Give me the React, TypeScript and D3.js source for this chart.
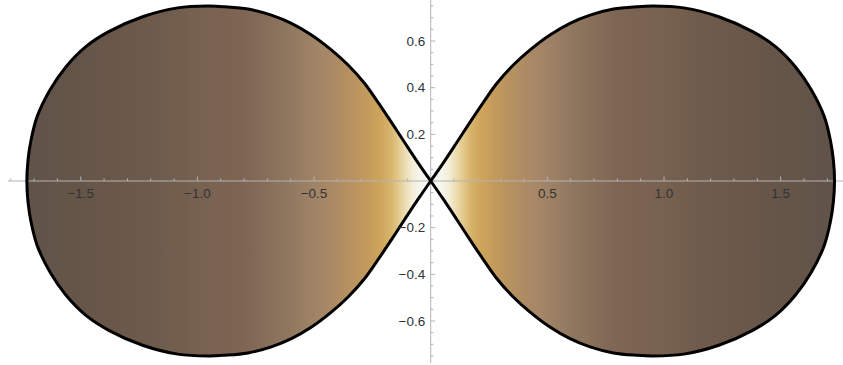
import * as d3 from 'd3'

// upper-right quarter of the figure-eight (the rest is mirrored)
const curveX = [0, 0.054, 0.111, 0.168, 0.225, 0.283, 0.354, 0.426, 0.511, 0.597, 0.683, 0.783, 0.883, 0.953, 1.085, 1.235, 1.38, 1.478, 1.563, 1.632, 1.687, 1.713, 1.726, 1.731]
const curveY = [0, 0.078, 0.164, 0.251, 0.336, 0.418, 0.497, 0.562, 0.626, 0.676, 0.711, 0.737, 0.747, 0.75, 0.742, 0.704, 0.64, 0.576, 0.49, 0.39, 0.276, 0.176, 0.09, 0]

const xTicks = [-1.5, -1.0, -0.5, 0.5, 1.0, 1.5]
const xTickLabels = ['−1.5', '−1.0', '−0.5', '0.5', '1.0', '1.5']
const yTicks = [-0.6, -0.4, -0.2, 0.2, 0.4, 0.6]
const yTickLabels = ['−0.6', '−0.4', '−0.2', '0.2', '0.4', '0.6']

// colour by |x| (coffee-like tones)
const shadeAt = [0, 0.05, 0.08, 0.11, 0.14, 0.17, 0.21, 0.26, 0.32, 0.4, 0.5, 0.62, 0.8, 1.0, 1.2, 1.5, 1.73]
const shadeColor = ['#f7fbf9', '#f6f6ec', '#f3ecd5', '#ecdcb0', '#e2c88a', '#d8b46c', '#d0a65c', '#c69c5c', '#ba945f', '#ae8b64', '#a08367', '#8e765e', '#7e6554', '#776150', '#6d5a4b', '#655548', '#61534a']

const W = 843
const H = 365
const FONT = '"Liberation Sans", Arial, sans-serif'

export default function App() {
  const x = d3.scaleLinear().domain([-1.8, 1.75]).range([430.7 - 1.8 * 233.3, 430.7 + 1.75 * 233.3])
  const y = d3.scaleLinear().domain([-0.75, 0.75]).range([181 + 0.75 * 233.3, 181 - 0.75 * 233.3])

  const quarter = curveX.map((v, i) => [v, curveY[i]])
  const lobe = quarter.concat(quarter.slice(0, -1).reverse().map(([a, b]) => [a, -b]))

  const line = d3.line<number[]>()
    .x(d => x(d[0]))
    .y(d => y(d[1]))
    .curve(d3.curveCatmullRom.alpha(0.5))

  const rightPath = line(lobe) + 'Z'
  const leftPath = line(lobe.map(([a, b]) => [-a, b])) + 'Z'

  const xMinor = d3.range(-18, 18).map(i => i / 10)
  const yMinor = d3.range(-15, 16).map(i => i / 20)
  const axisColor = '#b3b3b3'

  const stops = shadeAt.map((s, i) => (
    <stop key={i} offset={s / 1.73} stopColor={shadeColor[i]} />
  ))

  return (
    <svg width={W} height={H} style={{ position: 'absolute', left: 0, top: 0, background: '#fff' }}>
      <defs>
        <linearGradient id="gr" gradientUnits="userSpaceOnUse" x1={x(0)} x2={x(1.73)} y1={0} y2={0}>{stops}</linearGradient>
        <linearGradient id="gl" gradientUnits="userSpaceOnUse" x1={x(0)} x2={x(-1.73)} y1={0} y2={0}>{stops}</linearGradient>
      </defs>

      <path d={rightPath} fill="url(#gr)" />
      <path d={leftPath} fill="url(#gl)" />

      {/* axes */}
      <g stroke={axisColor} strokeWidth={1}>
        <line x1={8} x2={W} y1={y(0)} y2={y(0)} />
        <line x1={x(0)} x2={x(0)} y1={0} y2={363} />
        {xMinor.map(t => (
          <line key={'xm' + t} x1={x(t)} x2={x(t)} y1={y(0)} y2={y(0) - (Math.abs(t * 2 - Math.round(t * 2)) < 1e-6 ? 4.5 : 2.7)} />
        ))}
        {yMinor.map(t => (
          <line key={'ym' + t} x1={x(0)} x2={x(0) + (Math.abs(t * 5 - Math.round(t * 5)) < 1e-6 ? 4.5 : 2.7)} y1={y(t)} y2={y(t)} />
        ))}
      </g>

      <path d={rightPath} fill="none" stroke="#000" strokeWidth={3} strokeLinejoin="round" />
      <path d={leftPath} fill="none" stroke="#000" strokeWidth={3} strokeLinejoin="round" />

      <g fontFamily={FONT} fontSize={13.5} fill="#333">
        {xTicks.map((t, i) => (
          <text key={'xl' + t} x={x(t)} y={y(0) + 17} textAnchor="middle">{xTickLabels[i]}</text>
        ))}
        {yTicks.map((t, i) => (
          <text key={'yl' + t} x={x(0) - 5.5} y={y(t) + 4.8} textAnchor="end">{yTickLabels[i]}</text>
        ))}
      </g>
    </svg>
  )
}
